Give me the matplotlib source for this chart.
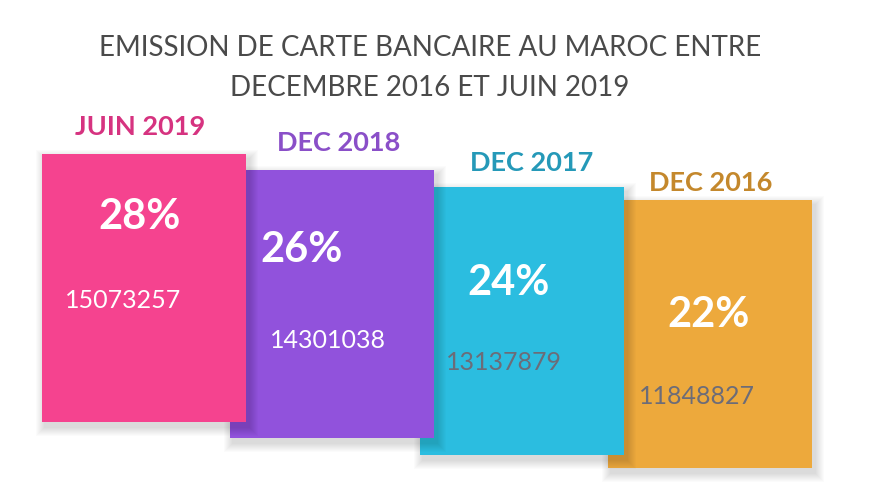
import matplotlib.pyplot as plt
from matplotlib.patches import Rectangle

# data
periods = ['JUIN 2019', 'DEC 2018', 'DEC 2017', 'DEC 2016']
pct = [28, 26, 24, 22]
nb_cartes = [15073257, 14301038, 13137879, 11848827]

# style / layout (pixels, y going down)
card_col = ['#f5438f', '#9152dc', '#2bbde0', '#eda93c']
label_col = ['#d63380', '#8a4fc8', '#2599b8', '#c4882c']
num_col = ['white', 'white', '#6c6c78', '#6c6c78']
left = [42, 230, 420, 608]
top = [154, 170, 187, 200]
w, h = 204, 268
lab_off = [(98, -27), (109, -27), (112, -24), (103, -17)]
pct_off = [(98, 63), (72, 80), (89, 96), (101, 115)]
num_off = [(81, 146), (98, 170), (84, 176), (89, 197)]

plt.rcParams['font.family'] = ['Lato', 'DejaVu Sans']

fig = plt.figure(figsize=(8.72, 4.97), dpi=100)
ax = fig.add_axes([0, 0, 1, 1])
ax.set_xlim(0, 872)
ax.set_ylim(497, 0)
ax.axis('off')

ax.text(430, 48, 'EMISSION DE CARTE BANCAIRE AU MAROC ENTRE', ha='center', va='center',
        fontsize=20, color='#4a4a4a')
ax.text(430, 88, 'DECEMBRE 2016 ET JUIN 2019', ha='center', va='center',
        fontsize=20, color='#4a4a4a')

n = len(periods)
for i in range(n):
    z = 2 * (n - i)
    x0, y0 = left[i], top[i]
    # soft shadow
    for k in range(1, 10):
        ax.add_patch(Rectangle((x0 - k + 3, y0 - k + 5), w + 2 * k, h + 2 * k,
                               facecolor='black', alpha=0.015, lw=0, zorder=z))
    ax.add_patch(Rectangle((x0, y0), w, h, facecolor=card_col[i], lw=0, zorder=z + 1))
    ax.text(x0 + lab_off[i][0], y0 + lab_off[i][1], periods[i], ha='center', va='center',
            fontsize=19.5, fontweight='bold', color=label_col[i], zorder=20)
    ax.text(x0 + pct_off[i][0], y0 + pct_off[i][1], f'{pct[i]}%', ha='center', va='center',
            fontsize=30, fontweight='bold', color='white', zorder=20)
    ax.text(x0 + num_off[i][0], y0 + num_off[i][1], str(nb_cartes[i]), ha='center', va='center',
            fontsize=18, color=num_col[i], zorder=20)

fig.savefig('out.png', dpi=100)
